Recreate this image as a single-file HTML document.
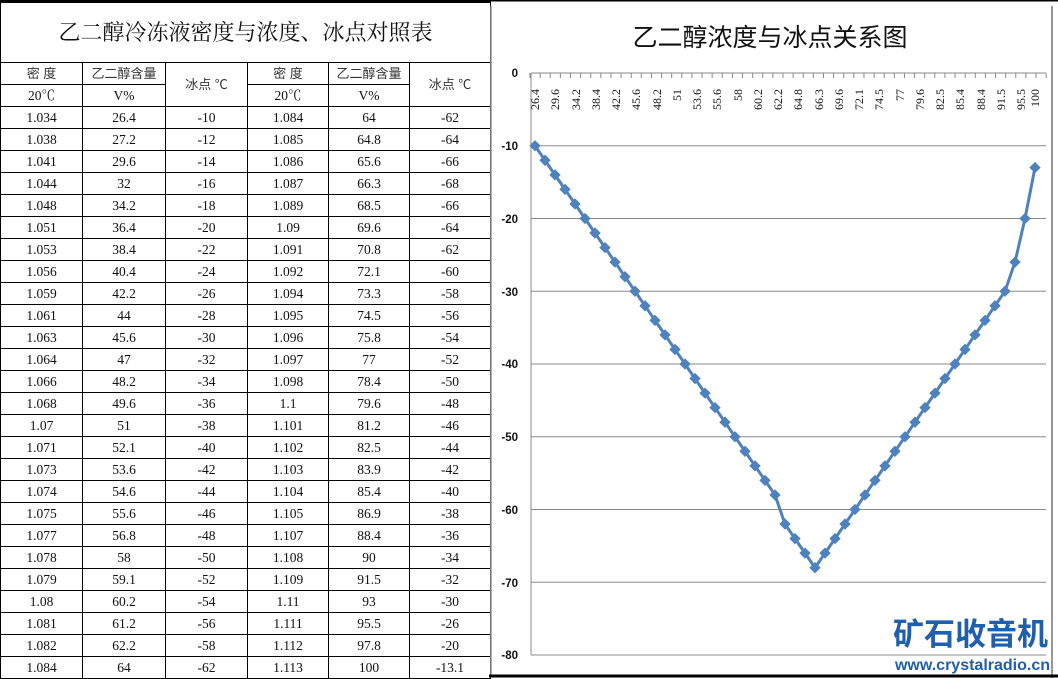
<!DOCTYPE html>
<html><head><meta charset="utf-8"><style>
body{margin:0;width:1058px;height:678px;background:#fff;overflow:hidden;position:relative;font-family:"Liberation Serif","Noto Serif CJK SC",serif}
#tb{position:absolute;left:0;top:0;width:490px;border-collapse:collapse;table-layout:fixed}
#tb td{border:1px solid #000;text-align:center;font-size:13.5px;padding:0;height:21px;line-height:21px;color:#111}
#tb .t{height:59px;font-size:22px;font-family:"Liberation Serif","Noto Serif CJK SC",serif;border-top:3px solid #000}
#tb .h{font-family:"Liberation Sans","Noto Sans CJK SC",sans-serif;font-size:13px;color:#333}
svg{position:absolute;left:0;top:0}
</style></head><body>
<table id="tb">
<colgroup><col style="width:82px"><col style="width:83px"><col style="width:82px"><col style="width:81px"><col style="width:81px"><col style="width:81px"></colgroup>
<tr><td class="t" colspan="6">乙二醇冷冻液密度与浓度、冰点对照表</td></tr>
<tr><td class="h">密 度</td><td class="h">乙二醇含量</td><td class="h" rowspan="2">冰点 ℃</td><td class="h">密 度</td><td class="h">乙二醇含量</td><td class="h" rowspan="2">冰点 ℃</td></tr>
<tr><td>20℃</td><td>V%</td><td>20℃</td><td>V%</td></tr>
<tr><td>1.034</td><td>26.4</td><td>-10</td><td>1.084</td><td>64</td><td>-62</td></tr>
<tr><td>1.038</td><td>27.2</td><td>-12</td><td>1.085</td><td>64.8</td><td>-64</td></tr>
<tr><td>1.041</td><td>29.6</td><td>-14</td><td>1.086</td><td>65.6</td><td>-66</td></tr>
<tr><td>1.044</td><td>32</td><td>-16</td><td>1.087</td><td>66.3</td><td>-68</td></tr>
<tr><td>1.048</td><td>34.2</td><td>-18</td><td>1.089</td><td>68.5</td><td>-66</td></tr>
<tr><td>1.051</td><td>36.4</td><td>-20</td><td>1.09</td><td>69.6</td><td>-64</td></tr>
<tr><td>1.053</td><td>38.4</td><td>-22</td><td>1.091</td><td>70.8</td><td>-62</td></tr>
<tr><td>1.056</td><td>40.4</td><td>-24</td><td>1.092</td><td>72.1</td><td>-60</td></tr>
<tr><td>1.059</td><td>42.2</td><td>-26</td><td>1.094</td><td>73.3</td><td>-58</td></tr>
<tr><td>1.061</td><td>44</td><td>-28</td><td>1.095</td><td>74.5</td><td>-56</td></tr>
<tr><td>1.063</td><td>45.6</td><td>-30</td><td>1.096</td><td>75.8</td><td>-54</td></tr>
<tr><td>1.064</td><td>47</td><td>-32</td><td>1.097</td><td>77</td><td>-52</td></tr>
<tr><td>1.066</td><td>48.2</td><td>-34</td><td>1.098</td><td>78.4</td><td>-50</td></tr>
<tr><td>1.068</td><td>49.6</td><td>-36</td><td>1.1</td><td>79.6</td><td>-48</td></tr>
<tr><td>1.07</td><td>51</td><td>-38</td><td>1.101</td><td>81.2</td><td>-46</td></tr>
<tr><td>1.071</td><td>52.1</td><td>-40</td><td>1.102</td><td>82.5</td><td>-44</td></tr>
<tr><td>1.073</td><td>53.6</td><td>-42</td><td>1.103</td><td>83.9</td><td>-42</td></tr>
<tr><td>1.074</td><td>54.6</td><td>-44</td><td>1.104</td><td>85.4</td><td>-40</td></tr>
<tr><td>1.075</td><td>55.6</td><td>-46</td><td>1.105</td><td>86.9</td><td>-38</td></tr>
<tr><td>1.077</td><td>56.8</td><td>-48</td><td>1.107</td><td>88.4</td><td>-36</td></tr>
<tr><td>1.078</td><td>58</td><td>-50</td><td>1.108</td><td>90</td><td>-34</td></tr>
<tr><td>1.079</td><td>59.1</td><td>-52</td><td>1.109</td><td>91.5</td><td>-32</td></tr>
<tr><td>1.08</td><td>60.2</td><td>-54</td><td>1.11</td><td>93</td><td>-30</td></tr>
<tr><td>1.081</td><td>61.2</td><td>-56</td><td>1.111</td><td>95.5</td><td>-26</td></tr>
<tr><td>1.082</td><td>62.2</td><td>-58</td><td>1.112</td><td>97.8</td><td>-20</td></tr>
<tr><td>1.084</td><td>64</td><td>-62</td><td>1.113</td><td>100</td><td>-13.1</td></tr>
</table>
<svg id="c" width="1058" height="678" font-family="Liberation Sans, sans-serif">
<line x1="489" y1="0" x2="1058" y2="0" stroke="#000" stroke-width="3"/>
<line x1="491" y1="6" x2="491" y2="678" stroke="#999" stroke-width="1.5"/>
<line x1="1052" y1="6" x2="1052" y2="678" stroke="#777" stroke-width="1.5"/>
<line x1="489" y1="676" x2="1058" y2="676" stroke="#000" stroke-width="3"/>
<text x="770" y="46" font-size="25" text-anchor="middle" font-family="Liberation Sans, Noto Sans CJK SC, sans-serif" fill="#111">乙二醇浓度与冰点关系图</text>
<g id="grid" stroke="#8a8a8a" stroke-width="1"></g>
<g font-size="11.5" font-weight="bold" text-anchor="end" fill="#111">
<text x="518" y="77">0</text><text x="518" y="150">-10</text><text x="518" y="223">-20</text><text x="518" y="296">-30</text><text x="518" y="368">-40</text><text x="518" y="441">-50</text><text x="518" y="514">-60</text><text x="518" y="587">-70</text><text x="518" y="659">-80</text>
</g>
<g id="xl" font-size="12" fill="#111" font-family="Liberation Serif, serif">
<text transform="translate(539,89) rotate(-90)" text-anchor="end">26.4</text>
<text transform="translate(559,89) rotate(-90)" text-anchor="end">29.6</text>
<text transform="translate(580,89) rotate(-90)" text-anchor="end">34.2</text>
<text transform="translate(600,89) rotate(-90)" text-anchor="end">38.4</text>
<text transform="translate(620,89) rotate(-90)" text-anchor="end">42.2</text>
<text transform="translate(640,89) rotate(-90)" text-anchor="end">45.6</text>
<text transform="translate(661,89) rotate(-90)" text-anchor="end">48.2</text>
<text transform="translate(681,89) rotate(-90)" text-anchor="end">51</text>
<text transform="translate(701,89) rotate(-90)" text-anchor="end">53.6</text>
<text transform="translate(721,89) rotate(-90)" text-anchor="end">55.6</text>
<text transform="translate(742,89) rotate(-90)" text-anchor="end">58</text>
<text transform="translate(762,89) rotate(-90)" text-anchor="end">60.2</text>
<text transform="translate(782,89) rotate(-90)" text-anchor="end">62.2</text>
<text transform="translate(802,89) rotate(-90)" text-anchor="end">64.8</text>
<text transform="translate(823,89) rotate(-90)" text-anchor="end">66.3</text>
<text transform="translate(843,89) rotate(-90)" text-anchor="end">69.6</text>
<text transform="translate(863,89) rotate(-90)" text-anchor="end">72.1</text>
<text transform="translate(883,89) rotate(-90)" text-anchor="end">74.5</text>
<text transform="translate(904,89) rotate(-90)" text-anchor="end">77</text>
<text transform="translate(924,89) rotate(-90)" text-anchor="end">79.6</text>
<text transform="translate(944,89) rotate(-90)" text-anchor="end">82.5</text>
<text transform="translate(964,89) rotate(-90)" text-anchor="end">85.4</text>
<text transform="translate(985,89) rotate(-90)" text-anchor="end">88.4</text>
<text transform="translate(1005,89) rotate(-90)" text-anchor="end">91.5</text>
<text transform="translate(1025,89) rotate(-90)" text-anchor="end">95.5</text>
<text transform="translate(1039,89) rotate(-90)" text-anchor="end">100</text>
</g>
<g id="ser"></g>
<text x="1048" y="645" font-size="31" font-weight="bold" text-anchor="end" fill="#1f5fae" font-family="Liberation Sans, Noto Sans CJK SC, sans-serif">矿石收音机</text>
<text x="1050" y="670" font-size="16" font-weight="bold" text-anchor="end" fill="#1f5fae">www.crystalradio.cn</text>
</svg>
<script>
var v=[-10,-12,-14,-16,-18,-20,-22,-24,-26,-28,-30,-32,-34,-36,-38,-40,-42,-44,-46,-48,-50,-52,-54,-56,-58,-62,-64,-66,-68,-66,-64,-62,-60,-58,-56,-54,-52,-50,-48,-46,-44,-42,-40,-38,-36,-34,-32,-30,-26,-20,-13];
var ns="http://www.w3.org/2000/svg";
function el(t,a,p){var e=document.createElementNS(ns,t);for(var k in a)e.setAttribute(k,a[k]);document.getElementById(p).appendChild(e);return e;}
for(var g=-10;g>=-80;g-=10){var y=73-g*7.275;el('line',{x1:531,x2:1046,y1:y,y2:y},'grid');}
el('line',{x1:531,x2:1046,y1:73,y2:73,stroke:'#888'},'grid');
el('line',{x1:531,x2:531,y1:73,y2:655},'grid');
for(var i=0;i<=51;i++){var x=530+i*10.12;el('line',{x1:x,x2:x,y1:73,y2:78},'grid');}
var pts=v.map(function(val,i){return (535+i*10.0)+','+(73-val*7.275)});
el('polyline',{points:pts.join(' '),fill:'none',stroke:'#4f81bd','stroke-width':3},'ser');
v.forEach(function(val,i){var x=535+i*10.0,y=73-val*7.275;el('rect',{x:x-4,y:y-4,width:8,height:8,fill:'#4f81bd',transform:'rotate(45 '+x+' '+y+')'},'ser');});
</script>
</body></html>
